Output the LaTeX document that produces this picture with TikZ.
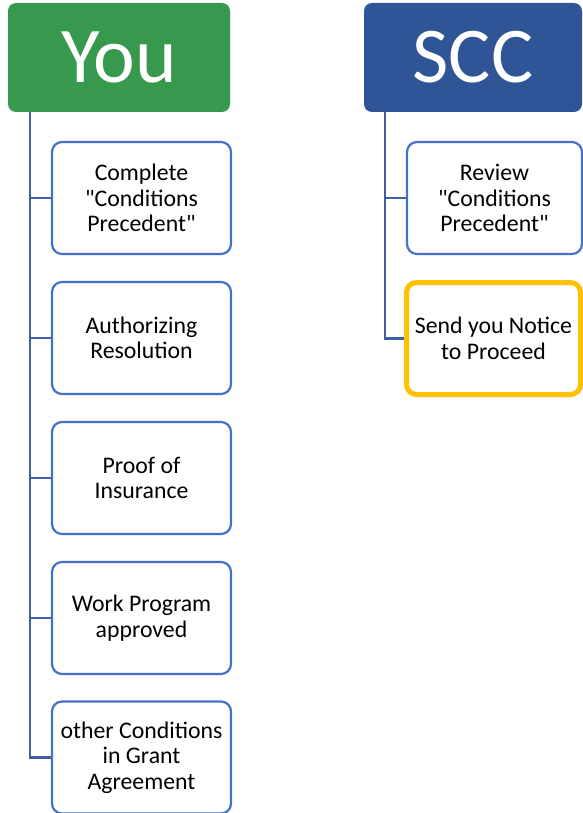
\documentclass[tikz,border=0pt]{standalone}
\usepackage{fontspec}
\setmainfont{Carlito}[Ligatures=TeXOff]
\definecolor{hgreen}{RGB}{55,153,77}
\definecolor{hblue}{RGB}{47,85,151}
\definecolor{lineblue}{RGB}{63,95,168}
\definecolor{boxblue}{RGB}{68,114,196}
\definecolor{gold}{RGB}{255,192,0}
\begin{document}
\begin{tikzpicture}[x=1pt,y=-1pt,
  header/.style={rectangle, rounded corners=8pt, inner sep=0pt, text=white,
    font=\fontsize{79}{90}\selectfont},
  item/.style={rectangle, rounded corners=10pt, draw=boxblue, line width=2.2pt, fill=white,
    inner sep=0pt, align=center, minimum height=112pt,
    font=\fontsize{23.8}{25.5}\selectfont},
  hilite/.style={item, draw=gold, line width=5pt},
  conn/.style={draw=lineblue, line width=2.8pt}]
\useasboundingbox (0,0) rectangle (583,813);
\node[header, fill=hgreen, minimum width=222pt, minimum height=109pt] (you) at (119,57.5) {You};
\node[header, fill=hblue, minimum width=218pt, minimum height=109pt] (scc) at (473,57.5) {SCC};
\coordinate (yt) at (30,112);
\coordinate (st) at (385,112);
\node[item, minimum width=179pt] (c1) at (141.5,198) {Complete\\"Conditions\\Precedent"};
\node[item, minimum width=179pt] (c2) at (141.5,338) {Authorizing\\Resolution};
\node[item, minimum width=179pt] (c3) at (141.5,478) {Proof of\\Insurance};
\node[item, minimum width=179pt] (c4) at (141.5,618) {Work Program\\approved};
\node[item, minimum width=179pt] (c5) at (141.5,757.5) {other Conditions\\in Grant\\Agreement};
\node[item, minimum width=175pt] (s1) at (494.5,198) {Review\\"Conditions\\Precedent"};
\node[hilite, minimum width=174pt] (s2) at (493.5,338.5) {Send you Notice\\to Proceed};
\draw[conn] (yt) |- (c5.west);
\foreach \n in {c1,c2,c3,c4} \draw[conn] (yt |- \n.west) -- (\n.west);
\draw[conn] (st) |- (s2.west);
\draw[conn] (st |- s1.west) -- (s1.west);
\end{tikzpicture}
\end{document}
